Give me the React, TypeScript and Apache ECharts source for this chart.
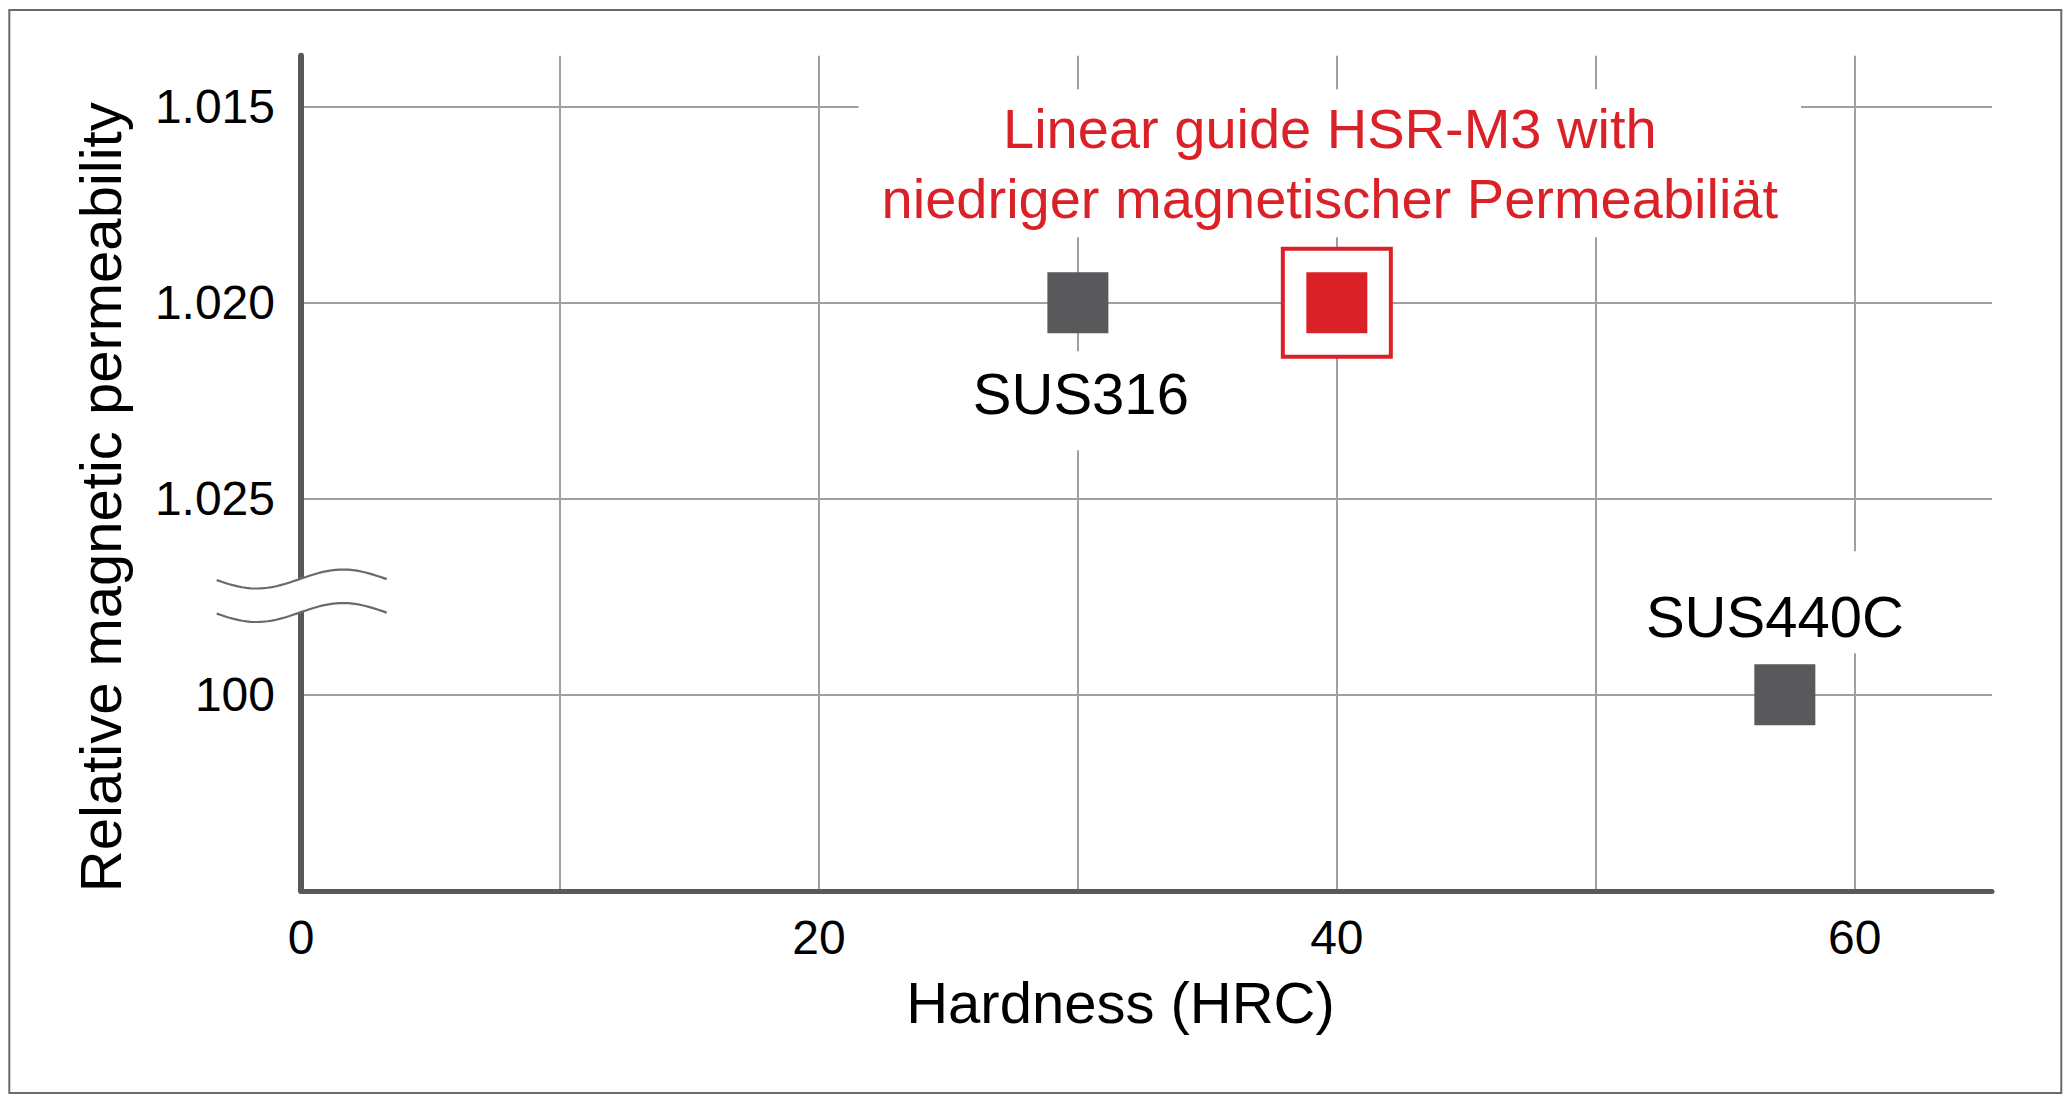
import { useEffect, useRef } from 'react';
import * as echarts from 'echarts';

const materials = ['SUS316', 'HSR-M3', 'SUS440C'];
const hardness = [30, 40, 57.3];
const permeability = ['1.020', '1.020', '100'];
// rows of the broken y axis, bottom to top
const permeabilityTicks = ['100', '1.025', '1.020', '1.015'];
const hardnessTicks = [0, 20, 40, 60];
const noteLines = ['Linear guide HSR-M3 with', 'niedriger magnetischer Permeabiliät'];

const FONT = '"Liberation Sans", Arial, Helvetica, sans-serif';
const RED = '#da2128';
const DARK = '#59595b';
const GRID = '#a0a0a2';
const HIGHLIGHT = 'HSR-M3';

const row = (p: string) => permeabilityTicks.indexOf(p) + 1;

// name label settings per steel grade
const steelLabels: Record<string, any> = {
  SUS316: { position: 'bottom', distance: 18, padding: [7, 10, 22, 10], offset: [3, 0] },
  SUS440C: { position: 'top', distance: 11, padding: [30, 10, 2, 10], offset: [-10, 0] }
};

// wavy line of the axis break symbol
function wave(cy: number): number[][] {
  const pts: number[][] = [];
  for (let i = 0; i <= 40; i++) {
    const x = 208.7 + (i * 170) / 40;
    pts.push([x, cy + 9.5 * Math.sin((2 * Math.PI * (x - 205.4)) / 173)]);
  }
  return pts;
}

export default function App() {
  const chartRef = useRef<HTMLDivElement>(null);

  useEffect(() => {
    if (!chartRef.current) return;
    const chart = echarts.init(chartRef.current, null, { renderer: 'svg' });

    const idx = materials.map((_, i) => i);
    const steel = idx.filter(i => materials[i] !== HIGHLIGHT);
    const hi = idx.filter(i => materials[i] === HIGHLIGHT);

    const w1 = wave(571);
    const w2 = wave(604.5);

    const option: echarts.EChartsOption = {
      animation: false,
      backgroundColor: '#fff',
      textStyle: { fontFamily: FONT },
      grid: { left: 293, right: 72, top: 47.7, bottom: 205.2, containLabel: false, outerBoundsMode: 'none' } as any,
      xAxis: {
        type: 'value',
        min: 0,
        max: 65.3,
        interval: 10,
        name: 'Hardness (HRC)',
        nameLocation: 'middle',
        nameGap: 83,
        nameMoveOverlap: false,
        nameTextStyle: { fontSize: 58, color: '#000', fontFamily: FONT, padding: [0, 52, 0, 0] },
        axisLine: { show: true, lineStyle: { color: DARK, width: 5 } },
        axisTick: { show: false },
        axisLabel: {
          margin: 23,
          fontSize: 48,
          color: '#000',
          fontFamily: FONT,
          formatter: (v: number) => (hardnessTicks.includes(v) ? String(v) : '')
        },
        splitLine: { show: true, showMinLine: false, showMaxLine: false, lineStyle: { color: GRID, width: 2 } }
      } as any,
      yAxis: {
        type: 'value',
        min: 0,
        max: 4.26,
        interval: 1,
        name: 'Relative magnetic permeability',
        nameLocation: 'middle',
        nameGap: 172,
        nameMoveOverlap: false,
        nameTextStyle: { fontSize: 58, color: '#000', fontFamily: FONT, padding: [0, 48, 0, 0] },
        axisLine: { show: true, lineStyle: { color: DARK, width: 6 } },
        axisTick: { show: false },
        axisLabel: {
          margin: 26,
          fontSize: 48,
          color: '#000',
          fontFamily: FONT,
          formatter: (v: number) => (Number.isInteger(v) && v >= 1 ? permeabilityTicks[v - 1] ?? '' : '')
        },
        splitLine: { show: true, showMinLine: false, showMaxLine: false, lineStyle: { color: GRID, width: 2 } }
      } as any,
      series: [
        {
          name: 'steel',
          type: 'scatter',
          symbol: 'rect',
          symbolSize: 61,
          itemStyle: { color: DARK, opacity: 1 },
          emphasis: { disabled: true },
          data: steel.map(i => ({
            name: materials[i],
            value: [hardness[i], row(permeability[i])],
            label: {
              show: true,
              formatter: materials[i],
              fontSize: 58,
              lineHeight: 70,
              color: '#000',
              opacity: 1,
              fontFamily: FONT,
              backgroundColor: '#fff',
              ...steelLabels[materials[i]]
            }
          }))
        },
        {
          name: 'frame',
          type: 'scatter',
          symbol: 'rect',
          symbolSize: 108,
          silent: true,
          itemStyle: { color: '#fff', borderColor: RED, borderWidth: 4, opacity: 1 },
          emphasis: { disabled: true },
          data: hi.map(i => [hardness[i], row(permeability[i])])
        },
        {
          name: HIGHLIGHT,
          type: 'scatter',
          symbol: 'rect',
          symbolSize: 61,
          itemStyle: { color: RED, opacity: 1 },
          emphasis: { disabled: true },
          label: {
            show: true,
            position: 'top',
            distance: 35,
            offset: [-7, 0],
            formatter: noteLines.join('\n'),
            fontSize: 56,
            lineHeight: 70,
            color: RED,
            opacity: 1,
            fontFamily: FONT,
            backgroundColor: '#fff',
            padding: [4, 23, 4, 23]
          },
          data: hi.map(i => [hardness[i], row(permeability[i])])
        }
      ],
      graphic: [
        {
          type: 'rect',
          z: 100,
          silent: true,
          shape: { x: 1.3, y: 2, width: 2052, height: 1083 },
          style: { fill: 'none', stroke: '#6a6a6a', lineWidth: 2 }
        },
        {
          type: 'polygon',
          z: 100,
          silent: true,
          shape: { points: [...w1, ...w2.slice().reverse()] },
          style: { fill: '#fff', stroke: 'none' }
        },
        {
          type: 'polyline',
          z: 101,
          silent: true,
          shape: { points: w1 },
          style: { fill: 'none', stroke: '#6a6a6a', lineWidth: 2.2 }
        },
        {
          type: 'polyline',
          z: 101,
          silent: true,
          shape: { points: w2 },
          style: { fill: 'none', stroke: '#6a6a6a', lineWidth: 2.2 }
        }
      ]
    };

    chart.setOption(option);
    return () => chart.dispose();
  }, []);

  return <div ref={chartRef} style={{ width: 2056, height: 1088 }} />;
}
